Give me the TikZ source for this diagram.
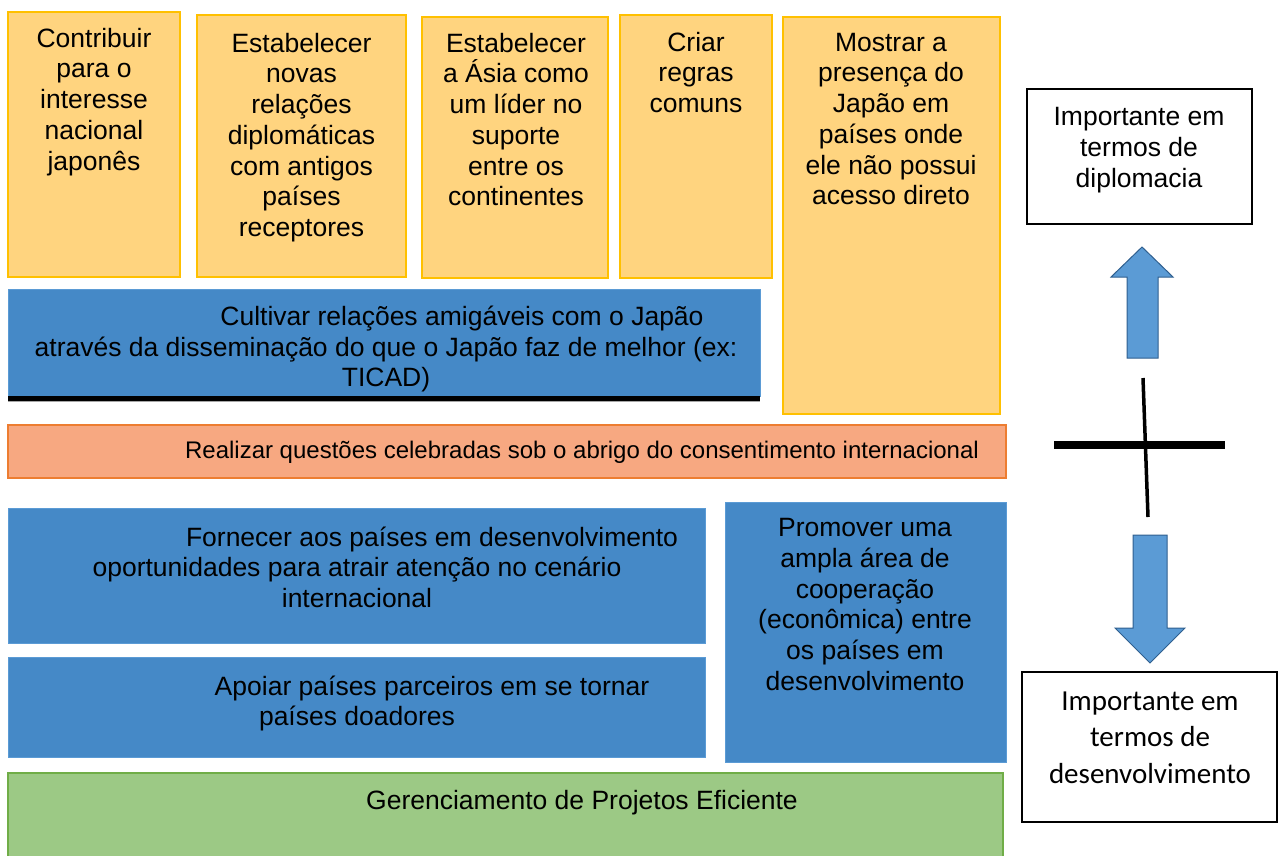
\documentclass[tikz,border=0pt]{standalone}
\usepackage{fontspec}
\setmainfont{Liberation Sans}
\newfontfamily\calib{Carlito}
\definecolor{ofill}{HTML}{FFD47F}
\definecolor{oline}{HTML}{FFC000}
\definecolor{bfill}{HTML}{4589C7}
\definecolor{bline}{HTML}{5B9BD5}
\definecolor{sfill}{HTML}{F7A881}
\definecolor{sline}{HTML}{ED7D31}
\definecolor{gfill}{HTML}{9CC985}
\definecolor{gline}{HTML}{70AD47}
\definecolor{afill}{HTML}{5B9BD5}
\definecolor{aline}{HTML}{2F5F8F}
\tikzset{
  basebox/.style={rectangle, inner sep=0pt, outer sep=0pt, anchor=north west},
  obox/.style={basebox, draw=oline, fill=ofill, line width=1.5pt},
  bbox/.style={basebox, draw=bline, fill=bfill, line width=1pt},
  sbox/.style={basebox, draw=sline, fill=sfill, line width=1.5pt},
  gbox/.style={basebox, draw=gline, fill=gfill, line width=1.5pt},
  wbox/.style={basebox, draw=black, fill=white, line width=1.2pt},
  txt/.style={align=center, inner sep=0pt, outer sep=0pt, anchor=north, font=\fontsize{26.5}{30.7}\selectfont},
  stxt/.style={inner sep=0pt, outer sep=0pt, anchor=base, font=\fontsize{24}{29}\selectfont},
  ctxt/.style={align=center, inner sep=0pt, outer sep=0pt, anchor=north, font=\calib\fontsize{29}{36.5}\selectfont},
  blockarrow/.style={draw=aline, fill=afill, line width=1pt, line join=miter},
  crossline/.style={draw=black, line cap=butt}
}
\begin{document}
\begin{tikzpicture}[x=1pt,y=-1pt]
\useasboundingbox (0,0) rectangle (1282,855);
% top orange boxes
\node[obox, minimum width=172pt, minimum height=265pt] (b1) at (8,12) {};
\node[obox, minimum width=209pt, minimum height=262pt] (b2) at (197,15) {};
\node[obox, minimum width=186pt, minimum height=261pt] (b3) at (422,17) {};
\node[obox, minimum width=152pt, minimum height=263pt] (b4) at (620,15) {};
\node[obox, minimum width=217pt, minimum height=397pt] (b5) at (783,17) {};
\node[txt] (t1) at (94,28) {Contribuir\\para o\\interesse\\nacional\\japonês};
\node[txt] (t2) at (301.5,33) {Estabelecer\\novas\\relações\\diplomáticas\\com antigos\\países\\receptores};
\node[txt] (t3) at (516,33) {Estabelecer\\a Ásia como\\um líder no\\suporte\\entre os\\continentes};
\node[txt] (t4) at (696,32) {Criar\\regras\\comuns};
\node[txt] (t5) at (891,33) {Mostrar a\\presença do\\Japão em\\países onde\\ele não possui\\acesso direto};
% blue wide box
\node[bbox, minimum width=752pt, minimum height=107pt] (b6) at (8,289) {};
\draw[draw=black!35, line width=2pt] ([yshift=-5pt]b6.south west) -- ([yshift=-5pt]b6.south east);
\draw[draw=black, line width=5pt] ([yshift=-2.5pt]b6.south west) -- ([yshift=-2.5pt]b6.south east);
\node[txt] (t6) at (386,306) {\hspace*{152pt}Cultivar relações amigáveis com o Japão\\através da disseminação do que o Japão faz de melhor (ex:\\TICAD)};
% salmon
\node[sbox, minimum width=998pt, minimum height=53pt] (b7) at (8,425) {};
\node[stxt] (t7) at (582,458.6) {Realizar questões celebradas sob o abrigo do consentimento internacional};
% lower blue boxes
\node[bbox, minimum width=697pt, minimum height=135pt] (b8) at (8,508) {};
\node[txt] (t8) at (357,526.5) {\hspace*{150pt}Fornecer aos países em desenvolvimento\\oportunidades para atrair atenção no cenário\\internacional};
\node[bbox, minimum width=697pt, minimum height=100pt] (b9) at (8,657) {};
\node[txt] (t9) at (357,675.5) {\hspace*{150pt}Apoiar países parceiros em se tornar\\países doadores};
\node[bbox, minimum width=281pt, minimum height=260pt] (b10) at (725,502) {};
\node[txt] (t10) at (865,518.5) {Promover uma\\ampla área de\\cooperação\\(econômica) entre\\os países em\\desenvolvimento};
% green
\node[gbox, minimum width=995pt, minimum height=90pt] (b11) at (8,773) {};
\node[txt, anchor=base] (t11) at (582,809.5) {Gerenciamento de Projetos Eficiente};
% white boxes
\node[wbox, minimum width=225pt, minimum height=135pt] (w1) at (1027,89) {};
\node[txt] (tw1) at (1139,107.5) {Importante em\\termos de\\diplomacia};
\node[wbox, minimum width=255pt, minimum height=150pt] (w2) at (1022,672) {};
\node[ctxt] (tw2) at (1150,691.5) {Importante em\\termos de\\desenvolvimento};
% arrows
\draw[blockarrow] (1127,358) -- (1127,277) -- (1111,277) -- (1142,247) -- (1173,277) -- (1158,277) -- (1158,358) -- cycle;
\draw[blockarrow] (1133,535) -- (1167,535) -- (1167,628) -- (1185,628) -- (1150,663) -- (1115,628) -- (1133,628) -- cycle;
% cross
\coordinate (h1) at (1054,445);
\coordinate (h2) at (1225,445);
\coordinate (v1) at (1143,378);
\coordinate (v2) at (1148,517);
\draw[crossline, line width=8pt] (h1) -- (h2);
\draw[crossline, line width=3.5pt] (v1) -- (v2);
\end{tikzpicture}
\end{document}
